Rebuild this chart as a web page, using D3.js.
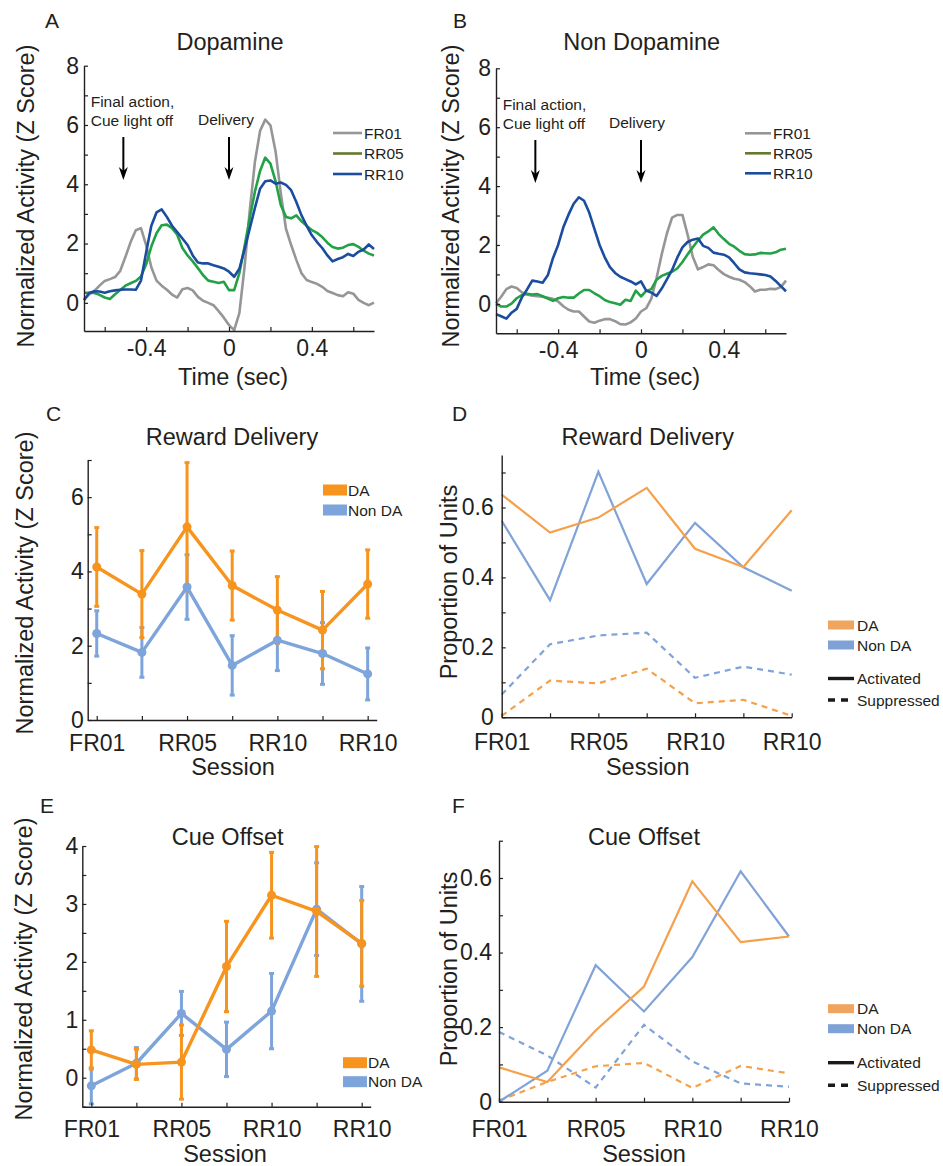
<!DOCTYPE html>
<html><head><meta charset="utf-8">
<script src="https://cdn.jsdelivr.net/npm/d3@7"></script>
<style>body{margin:0;background:#fff}svg{display:block}</style>
</head><body>
<svg id="chart" width="943" height="1166"></svg>
<script>
// ---------- data: peri-event traces (A, B) ----------
const timeSec = [-0.700,-0.675,-0.650,-0.625,-0.600,-0.575,-0.550,-0.525,-0.500,-0.475,-0.450,-0.425,-0.400,-0.375,-0.350,-0.325,-0.300,-0.275,-0.250,-0.225,-0.200,-0.175,-0.150,-0.125,-0.100,-0.075,-0.050,-0.025,0.000,0.025,0.050,0.075,0.100,0.125,0.150,0.175,0.200,0.225,0.250,0.275,0.300,0.325,0.350,0.375,0.400,0.425,0.450,0.475,0.500,0.525,0.550,0.575,0.600,0.625,0.650,0.675,0.700];
const daFR01 = [0.12,0.28,0.40,0.58,0.74,0.80,0.87,1.08,1.55,2.05,2.45,2.52,1.95,1.20,0.75,0.58,0.44,0.28,0.18,0.46,0.50,0.42,0.20,0.07,0.00,-0.08,-0.28,-0.50,-0.75,-0.92,-0.35,1.20,3.10,4.75,5.80,6.18,5.99,5.10,3.70,2.50,1.95,1.45,1.00,0.77,0.70,0.64,0.54,0.40,0.33,0.26,0.22,0.36,0.31,0.10,0.00,-0.08,0.01];
const daRR05 = [0.34,0.34,0.33,0.27,0.18,0.13,0.29,0.43,0.58,0.66,0.74,0.89,1.30,1.90,2.35,2.62,2.64,2.52,2.30,1.85,1.60,1.40,1.17,0.93,0.75,0.71,0.67,0.71,0.43,0.43,1.00,1.90,2.85,3.75,4.45,4.90,4.70,4.10,3.30,2.90,2.85,2.95,2.75,2.60,2.45,2.36,2.22,2.03,1.88,1.83,1.86,1.95,1.98,1.89,1.76,1.66,1.60];
const daRR10 = [0.09,0.33,0.39,0.38,0.34,0.39,0.42,0.44,0.45,0.45,0.44,0.75,1.70,2.60,3.05,3.15,2.90,2.60,2.39,2.17,1.95,1.60,1.36,1.33,1.33,1.27,1.22,1.16,1.05,0.88,1.15,1.80,2.50,3.20,3.85,4.10,4.13,4.02,4.06,3.98,3.80,3.40,2.95,2.60,2.28,2.05,1.85,1.60,1.40,1.48,1.54,1.65,1.58,1.72,1.80,1.97,1.82];
const ndFR01 = [0.02,0.24,0.50,0.59,0.54,0.39,0.32,0.28,0.26,0.24,0.21,0.17,0.08,-0.08,-0.20,-0.26,-0.26,-0.43,-0.60,-0.64,-0.57,-0.52,-0.52,-0.59,-0.69,-0.70,-0.63,-0.50,-0.26,-0.15,0.18,0.87,1.68,2.39,2.93,3.02,3.02,2.35,1.60,1.17,1.25,1.34,1.31,1.15,1.01,0.92,0.85,0.82,0.74,0.60,0.42,0.48,0.48,0.51,0.50,0.57,0.79];
const ndRR05 = [0.00,-0.09,-0.09,0.01,0.19,0.30,0.34,0.32,0.33,0.26,0.18,0.10,0.19,0.23,0.21,0.21,0.35,0.47,0.47,0.36,0.26,0.13,0.06,0.02,-0.03,0.14,0.10,0.45,0.25,0.44,0.50,0.82,0.95,1.02,1.09,1.20,1.42,1.68,1.92,2.15,2.35,2.46,2.60,2.37,2.20,2.04,1.94,1.80,1.69,1.67,1.68,1.73,1.72,1.71,1.75,1.84,1.87];
const ndRR10 = [-0.35,-0.42,-0.50,-0.30,-0.17,0.22,0.49,0.79,0.76,0.72,0.97,1.55,2.00,2.60,3.03,3.40,3.62,3.50,3.10,2.55,2.00,1.58,1.25,1.05,0.92,0.84,0.76,0.66,0.76,0.45,0.38,0.27,0.52,0.83,1.15,1.57,1.92,2.10,2.18,2.22,1.97,1.90,1.74,1.70,1.67,1.58,1.38,1.17,1.07,1.04,1.02,1.00,0.98,0.93,0.78,0.60,0.43];
const traceNames = ["FR01","RR05","RR10"];
const eventTimes = [-0.51, 0];
const timeTicks = [-0.6,-0.4,-0.2,0,0.2,0.4,0.6];
const timeTickLabels = {"-0.4":"-0.4","0":"0","0.4":"0.4"};
const zTicksAB = [0,1,2,3,4,5,6,7,8];
const zTickLabelsAB = [0,2,4,6,8];

// ---------- data: sessions (C–F) ----------
const sessions = [1,2,3,4,5,6,7];
const sessionLabels = ["FR01","","RR05","","RR10","","RR10"];
const groupNames = ["DA","Non DA"];
const rewardDAMean = [4.12,3.39,5.20,3.62,2.96,2.42,3.66];
const rewardDAErr  = [1.06,1.17,1.73,0.93,0.90,1.04,0.92];
const rewardNDMean = [2.33,1.82,3.58,1.47,2.15,1.79,1.24];
const rewardNDErr  = [0.61,0.67,0.87,0.80,0.82,0.83,0.70];
const cueDAMean = [0.48,0.23,0.27,1.92,3.15,2.87,2.32];
const cueDAErr  = [0.33,0.26,0.64,0.78,0.74,1.12,0.74];
const cueNDMean = [-0.14,0.25,1.11,0.49,1.15,2.91,2.31];
const cueNDErr  = [0.31,0.27,0.38,0.47,0.65,0.80,0.99];
const rewardDAAct = [0.637,0.528,0.571,0.656,0.482,0.430,0.592];
const rewardNDAct = [0.562,0.335,0.702,0.381,0.556,0.429,0.362];
const rewardDASup = [0.004,0.105,0.097,0.139,0.040,0.050,0.004];
const rewardNDSup = [0.065,0.209,0.234,0.242,0.113,0.145,0.122];
const cueDAAct = [0.092,0.053,0.191,0.309,0.591,0.428,0.443];
const cueNDAct = [0.000,0.083,0.366,0.242,0.388,0.618,0.443];
const cueDASup = [0.003,0.053,0.095,0.104,0.037,0.096,0.076];
const cueNDSup = [0.187,0.124,0.038,0.206,0.108,0.049,0.040];
const zTicksC = [0,1,2,3,4,5,6,7], zLabelsC = [0,2,4,6];
const zTicksE = [-0.5,0,0.5,1,1.5,2,2.5,3,3.5,4], zLabelsE = [0,1,2,3,4];
const propTicksD = [0,0.1,0.2,0.3,0.4,0.5,0.6,0.7];
const propTicksF = [0,0.1,0.2,0.3,0.4,0.5,0.6,0.7];
const propLabels = [0,0.2,0.4,0.6];
const legendStyles = ["Activated","Suppressed"];

// ---------- styles ----------
const FONT = "'Liberation Sans', Arial, Helvetica, sans-serif";
const INK = "#231f20";
const cGray = "#969696", cGreen = "#22a146", cBlue = "#1b4c9f", cOlive = "#657a2b";
const cOrange = "#f7941e", cLBlue = "#7da4db";
const cOrangeL = "#f5a04a", cLBlueL = "#80a3d8";

const svg = d3.select("#chart").style("font-family", FONT);

function txt(x, y, s, size, anchor) {
  return svg.append("text").attr("x", x).attr("y", y).text(s)
    .attr("font-size", size).attr("fill", INK).attr("text-anchor", anchor || "start");
}
function ylabel(x, y, s) {
  svg.append("text").attr("transform", `translate(${x},${y}) rotate(-90)`)
    .attr("text-anchor", "middle").attr("dominant-baseline", "central")
    .attr("font-size", 23.5).attr("fill", INK).text(s);
}
function styleAxis(g) {
  g.select(".domain").attr("stroke", INK).attr("stroke-width", 1.4);
  g.selectAll(".tick line").attr("stroke", INK).attr("stroke-width", 1.2);
  g.selectAll(".tick text").attr("fill", INK).attr("font-size", 23).attr("font-family", FONT);
}
function axes(x, y, xTicks, xFmt, yTicks, yFmt, xPad, yPad) {
  const xa = svg.append("g").attr("transform", `translate(0,${y.range()[0]})`)
    .call(d3.axisBottom(x).tickValues(xTicks).tickFormat(xFmt).tickSizeInner(-4).tickSizeOuter(0).tickPadding(xPad));
  const ya = svg.append("g").attr("transform", `translate(${x.range()[0]},0)`)
    .call(d3.axisLeft(y).tickValues(yTicks).tickFormat(yFmt).tickSizeInner(-4).tickSizeOuter(0).tickPadding(yPad));
  styleAxis(xa); styleAxis(ya);
}
function arrow(x, y1, y2) {
  svg.append("line").attr("x1", x).attr("x2", x).attr("y1", y1).attr("y2", y2 - 6)
    .attr("stroke", "#000").attr("stroke-width", 2);
  svg.append("path").attr("d", `M${x-4.5},${y2-13}L${x},${y2}L${x+4.5},${y2-13}L${x},${y2-9}Z`).attr("fill", "#000");
}

// ---------- panels A & B ----------
function tracePanel(cfg) {
  const x = d3.scaleLinear().domain([-0.7, 0.7]).range(cfg.xr);
  const y = d3.scaleLinear().domain(cfg.yd).range(cfg.yr);
  const series = [cfg.s1, cfg.s2, cfg.s3];
  const cols = [cGray, cGreen, cBlue];
  const line = d3.line().x((d, i) => x(timeSec[i])).y(d => y(d));
  series.forEach((s, k) => {
    svg.append("path").datum(s).attr("d", line).attr("fill", "none")
      .attr("stroke", cols[k]).attr("stroke-width", 2.6).attr("stroke-linejoin", "round");
  });
  axes(x, y, timeTicks, d => timeTickLabels[String(d)] || "", zTicksAB,
       d => zTickLabelsAB.includes(d) ? String(d) : "", cfg.xPad, cfg.yPad);
  arrow(x(eventTimes[0]), cfg.arrowY[0], cfg.arrowY[1]);
  arrow(x(eventTimes[1]), cfg.arrowY[0], cfg.arrowY[1]);
  txt(cfg.fa[0], cfg.fa[1], "Final action,", 15.5);
  txt(cfg.fa[0], cfg.fa[2], "Cue light off", 15.5);
  txt(cfg.dl[0], cfg.dl[1], "Delivery", 15.5);
  const lc = [cGray, cOlive, cBlue];
  traceNames.forEach((n, k) => {
    const ly = cfg.leg[2] + k * cfg.leg[3];
    svg.append("line").attr("x1", cfg.leg[0]).attr("x2", cfg.leg[1]).attr("y1", ly).attr("y2", ly)
      .attr("stroke", lc[k]).attr("stroke-width", 2.6);
    txt(cfg.leg[1] + 2, ly, n, 15.5).attr("dominant-baseline", "central");
  });
  txt(cfg.title[0], cfg.title[1], cfg.title[2], 23.5, "middle");
  txt(cfg.letter[0], cfg.letter[1], cfg.letter[2], 21);
  txt(cfg.xl[0], cfg.xl[1], "Time (sec)", 23.5, "middle");
  ylabel(cfg.yl[0], cfg.yl[1], "Normalized Activity (Z Score)");
}

tracePanel({ xr: [84, 374], yd: [-0.95, 8], yr: [331, 65.7], s1: daFR01, s2: daRR05, s3: daRR10,
  xPad: 8.7, yPad: 5, arrowY: [137, 180], fa: [90.7, 107, 126], dl: [198, 125],
  leg: [333, 362, 133, 20.5], title: [230, 50, "Dopamine"], letter: [45, 28, "A"],
  xl: [233, 385], yl: [26, 196] });
tracePanel({ xr: [496, 786], yd: [-1, 8], yr: [333.3, 68.3], s1: ndFR01, s2: ndRR05, s3: ndRR10,
  xPad: 8.7, yPad: 5, arrowY: [140, 183], fa: [502.7, 110, 129], dl: [609, 128],
  leg: [745, 771, 133.3, 20], title: [641.7, 50, "Non Dopamine"], letter: [453, 28, "B"],
  xl: [645, 385], yl: [451, 196] });

// ---------- panels C & E ----------
function errPanel(cfg) {
  const x = d3.scaleLinear().domain([0.8, 7.2]).range(cfg.xr);
  const y = d3.scaleLinear().domain(cfg.yd).range(cfg.yr);
  const groups = [
    { m: cfg.ndM, e: cfg.ndE, c: cLBlue },
    { m: cfg.daM, e: cfg.daE, c: cOrange }
  ];
  groups.forEach(g => {
    sessions.forEach((s, i) => {
      const lo = y(g.m[i] - g.e[i]), hi = y(g.m[i] + g.e[i]), xx = x(s);
      svg.append("line").attr("x1", xx).attr("x2", xx).attr("y1", lo).attr("y2", hi)
        .attr("stroke", g.c).attr("stroke-width", 3);
      [lo, hi].forEach(v => svg.append("line").attr("x1", xx - 2.5).attr("x2", xx + 2.5)
        .attr("y1", v).attr("y2", v).attr("stroke", g.c).attr("stroke-width", 3));
    });
  });
  const line = d3.line().x((d, i) => x(sessions[i])).y(d => y(d));
  groups.forEach(g => {
    svg.append("path").datum(g.m).attr("d", line).attr("fill", "none")
      .attr("stroke", g.c).attr("stroke-width", 3.4).attr("stroke-linejoin", "round");
    svg.selectAll(null).data(g.m).enter().append("circle")
      .attr("cx", (d, i) => x(sessions[i])).attr("cy", d => y(d)).attr("r", 4.5).attr("fill", g.c);
  });
  axes(x, y, sessions, (d, i) => sessionLabels[i], cfg.yt,
       d => cfg.yl.includes(d) ? String(d) : "", cfg.xPad, cfg.yPad);
  [cOrange, cLBlue].forEach((c, k) => {
    const ly = cfg.leg[1] + k * cfg.leg[2];
    svg.append("rect").attr("x", cfg.leg[0]).attr("y", ly - 5.5).attr("width", 24).attr("height", 11).attr("fill", c);
    txt(cfg.leg[0] + 25, ly, groupNames[k], 15.5).attr("dominant-baseline", "central");
  });
  txt(cfg.title[0], cfg.title[1], cfg.title[2], 23.5, "middle");
  txt(cfg.letter[0], cfg.letter[1], cfg.letter[2], 21);
  txt(cfg.xlab[0], cfg.xlab[1], "Session", 23.5, "middle");
  ylabel(cfg.ylab[0], cfg.ylab[1], "Normalized Activity (Z Score)");
}

errPanel({ xr: [87.7, 376.7], yd: [0, 7], yr: [720, 460], daM: rewardDAMean, daE: rewardDAErr,
  ndM: rewardNDMean, ndE: rewardNDErr, yt: zTicksC, yl: zLabelsC, xPad: 14.2, yPad: 4,
  leg: [323, 490, 20], title: [232, 445, "Reward Delivery"], letter: [46, 421, "C"],
  xlab: [233, 775], ylab: [25, 583] });
errPanel({ xr: [82.3, 370.7], yd: [-0.5, 4], yr: [1106.7, 846], daM: cueDAMean, daE: cueDAErr,
  ndM: cueNDMean, ndE: cueNDErr, yt: zTicksE, yl: zLabelsE, xPad: 14, yPad: 4,
  leg: [343, 1062.7, 19], title: [227.7, 845, "Cue Offset"], letter: [40, 813, "E"],
  xlab: [225, 1162], ylab: [23.5, 969] });

// ---------- panels D & F ----------
function propPanel(cfg) {
  const x = d3.scaleLinear().domain([1, 7]).range(cfg.xr);
  const y = d3.scaleLinear().domain(cfg.yd).range(cfg.yr);
  const line = d3.line().x((d, i) => x(sessions[i])).y(d => y(d));
  const sets = [
    { d: cfg.ndSup, c: cLBlueL, dash: "6,5" },
    { d: cfg.daSup, c: cOrangeL, dash: "6,5" },
    { d: cfg.ndAct, c: cLBlueL, dash: null },
    { d: cfg.daAct, c: cOrangeL, dash: null }
  ];
  sets.forEach(s => {
    svg.append("path").datum(s.d).attr("d", line).attr("fill", "none")
      .attr("stroke", s.c).attr("stroke-width", 2.2).attr("stroke-dasharray", s.dash)
      .attr("stroke-linejoin", "miter");
  });
  const fmt = d => propLabels.some(v => Math.abs(v - d) < 1e-9) ? (d === 0 ? "0" : d3.format(".1f")(d)) : "";
  axes(x, y, sessions, (d, i) => sessionLabels[i], cfg.yt, fmt, cfg.xPad, cfg.yPad);
  const lx = 828, lw = 26;
  [["#efa55e", groupNames[0]], ["#7ea1d6", groupNames[1]]].forEach((p, k) => {
    const ly = cfg.leg[k];
    svg.append("rect").attr("x", lx).attr("y", ly - 4.5).attr("width", lw).attr("height", 9).attr("fill", p[0]);
    txt(lx + lw + 3, ly, p[1], 15.5).attr("dominant-baseline", "central");
  });
  legendStyles.forEach((n, k) => {
    const ly = cfg.leg[2 + k];
    svg.append("line").attr("x1", lx).attr("x2", lx + lw).attr("y1", ly).attr("y2", ly)
      .attr("stroke", "#1a1a1a").attr("stroke-width", 3.4).attr("stroke-dasharray", k ? "7,6" : null);
    txt(lx + lw + 3, ly, n, 15.5).attr("dominant-baseline", "central");
  });
  txt(cfg.title[0], cfg.title[1], cfg.title[2], 23.5, "middle");
  txt(cfg.letter[0], cfg.letter[1], cfg.letter[2], 21);
  txt(cfg.xlab[0], cfg.xlab[1], "Session", 23.5, "middle");
  ylabel(cfg.ylab[0], cfg.ylab[1], "Proportion of Units");
}

propPanel({ xr: [501.7, 791.7], yd: [0, 0.75], yr: [717.3, 455], daAct: rewardDAAct, ndAct: rewardNDAct,
  daSup: rewardDASup, ndSup: rewardNDSup, yt: propTicksD, xPad: 16.4, yPad: 8,
  leg: [625, 645, 678.5, 700], title: [647.7, 445, "Reward Delivery"], letter: [452, 421, "D"],
  xlab: [647.7, 775], ylab: [449, 582] });
propPanel({ xr: [499, 789], yd: [0, 0.7], yr: [1101.7, 840.7], daAct: cueDAAct, ndAct: cueNDAct,
  daSup: cueDASup, ndSup: cueNDSup, yt: propTicksF, xPad: 19, yPad: 7,
  leg: [1008.7, 1028.7, 1062.7, 1085.3], title: [644, 845, "Cue Offset"], letter: [452, 813, "F"],
  xlab: [644, 1162], ylab: [449, 969] });
</script>
</body></html>
